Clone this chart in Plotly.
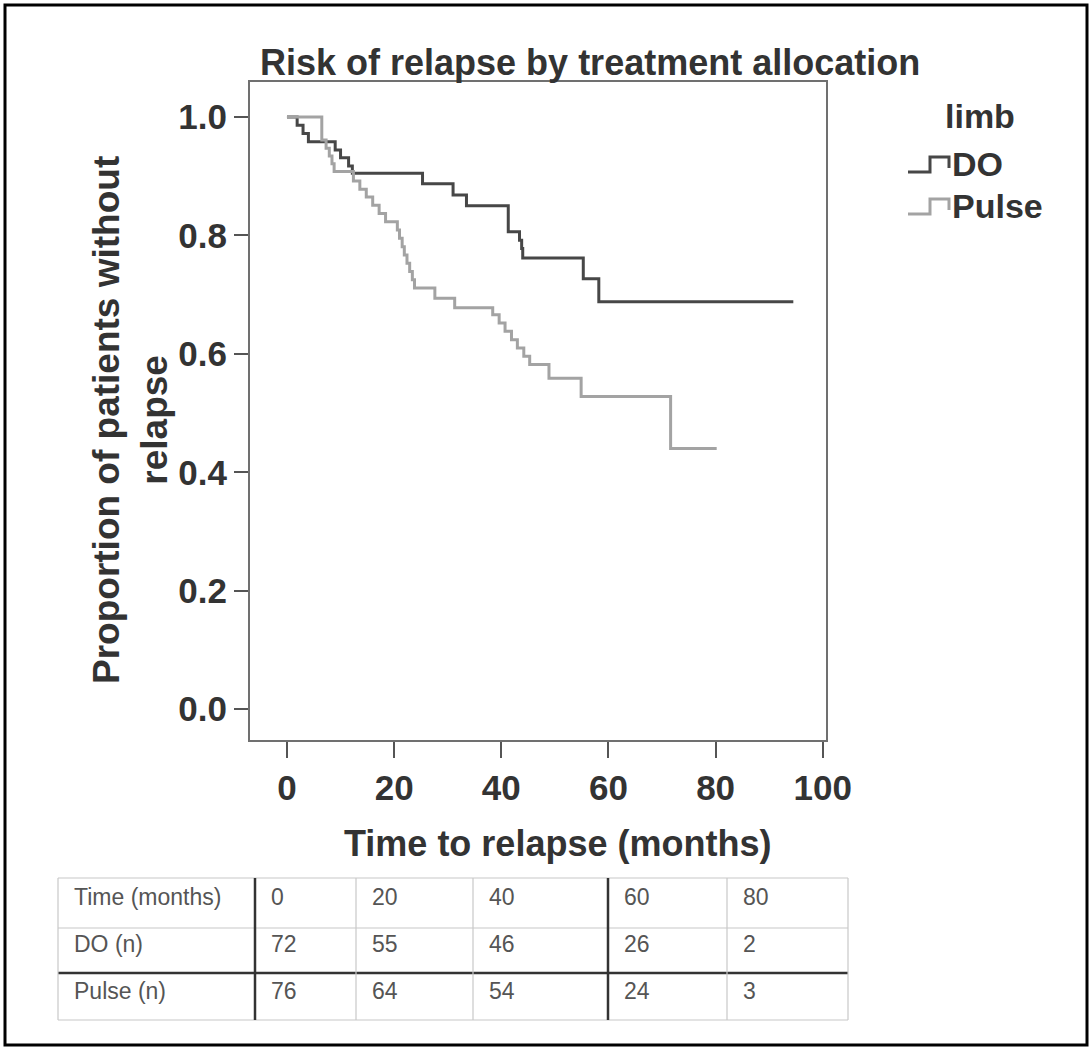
import plotly.graph_objects as go

# ---------------- data ----------------
do_time = [0, 1.9, 3.0, 4.0, 9.0, 10.0, 11.5, 12.2, 25.3, 31.0, 33.5, 41.3, 43.4, 43.8, 44.0, 55.3, 58.2, 94.5]
do_surv = [1.0, 0.986, 0.972, 0.958, 0.944, 0.931, 0.917, 0.905, 0.887, 0.868, 0.850, 0.806, 0.792, 0.778, 0.762, 0.727, 0.688, 0.688]

pulse_time = [0, 6.5, 7.3, 7.9, 8.4, 8.8, 12.4, 13.6, 14.8, 16.0, 17.2, 18.4,
              20.6, 21.0, 21.5, 21.9, 22.4, 22.9, 23.4, 23.8, 27.6, 31.3,
              38.4, 39.6, 40.7, 41.9, 43.0, 44.2, 45.3, 48.9, 54.9, 71.6, 80.2]
pulse_surv = [1.0, 0.961, 0.947, 0.934, 0.921, 0.908, 0.892, 0.878, 0.865, 0.851, 0.837, 0.823,
              0.809, 0.795, 0.781, 0.767, 0.753, 0.739, 0.725, 0.711, 0.694, 0.678,
              0.666, 0.652, 0.638, 0.624, 0.610, 0.596, 0.582, 0.559, 0.528, 0.440, 0.440]

x_ticks = [0, 20, 40, 60, 80, 100]
y_ticks = [0.0, 0.2, 0.4, 0.6, 0.8, 1.0]

table_row_labels = ["Time (months)", "DO (n)", "Pulse (n)"]
table_times = [0, 20, 40, 60, 80]
do_at_risk = [72, 55, 46, 26, 2]
pulse_at_risk = [76, 64, 54, 24, 3]

title_text = "Risk of relapse by treatment allocation"
x_title = "Time to relapse (months)"
y_title = "Proportion of patients without<br>relapse"
legend_title = "limb"
group_names = ["DO", "Pulse"]
group_colors = ["#474747", "#a3a3a3"]

# ---------------- geometry helpers ----------------
W, H = 1092, 1050
L, R, T, B = 250, 826, 82, 740


def px(x):
    return (x - L) / (R - L)


def py(y):
    return (B - y) / (B - T)


fig = go.Figure()
fig.add_trace(go.Scatter(x=do_time, y=do_surv, mode="lines", name=group_names[0],
                         line=dict(shape="hv", color=group_colors[0], width=3), showlegend=False))
fig.add_trace(go.Scatter(x=pulse_time, y=pulse_surv, mode="lines", name=group_names[1],
                         line=dict(shape="hv", color=group_colors[1], width=3), showlegend=False))

bold_font = "Liberation Sans, Arial, sans-serif"
tickfont = dict(family=bold_font, size=35, color="#333333", weight="bold")

fig.update_xaxes(range=[-6.9, 100.6], tickvals=x_ticks, ticks="outside", ticklen=16, tickwidth=2,
                 tickcolor="#555555", showline=True, mirror=True, linecolor="#707070", linewidth=2,
                 showgrid=False, zeroline=False, tickfont=tickfont)
fig.update_yaxes(range=[-0.052, 1.059], tickvals=y_ticks, tickformat=".1f", ticks="outside", ticklen=14,
                 tickwidth=2, tickcolor="#555555", showline=True, mirror=True, linecolor="#707070",
                 linewidth=2, showgrid=False, zeroline=False, tickfont=tickfont)

shapes = []
# outer border
shapes.append(dict(type="rect", xref="paper", yref="paper", x0=px(5), x1=px(1087), y0=py(5), y1=py(1045),
                   line=dict(color="black", width=3), layer="above"))

# table grid
tx = [58, 255, 356, 473, 608, 727, 848]
ty = [878, 928, 973, 1020]
bold_x = [255, 608]
bold_y = [973]
for yy in ty:
    bold = yy in bold_y
    shapes.append(dict(type="line", xref="paper", yref="paper", x0=px(tx[0]), x1=px(tx[-1]), y0=py(yy), y1=py(yy),
                       line=dict(color="#333333" if bold else "#c8c8c8", width=2.5 if bold else 1.2)))
for xx in tx:
    bold = xx in bold_x
    shapes.append(dict(type="line", xref="paper", yref="paper", x0=px(xx), x1=px(xx), y0=py(ty[0]), y1=py(ty[-1]),
                       line=dict(color="#333333" if bold else "#c8c8c8", width=2.5 if bold else 1.2)))

# legend glyphs
glyph_y = [(172, 157), (214, 199)]
for (ylow, yhigh), col in zip(glyph_y, group_colors):
    path = "M {} {} L {} {} L {} {} L {} {} L {} {}".format(
        px(908), py(ylow), px(930), py(ylow), px(930), py(yhigh), px(949), py(yhigh), px(949), py(ylow - 4))
    shapes.append(dict(type="path", xref="paper", yref="paper", path=path,
                       line=dict(color=col, width=3)))

annotations = []
annotations.append(dict(text="<b>" + title_text + "</b>", x=px(590), y=py(62), xref="paper", yref="paper",
                        showarrow=False, xanchor="center", yanchor="middle",
                        font=dict(family=bold_font, size=36, color="#333333")))
annotations.append(dict(text="<b>" + x_title + "</b>", x=px(557), y=py(843), xref="paper", yref="paper",
                        showarrow=False, xanchor="center", yanchor="middle",
                        font=dict(family=bold_font, size=36, color="#333333")))
annotations.append(dict(text="<b>" + y_title + "</b>", x=px(131), y=py(420), xref="paper", yref="paper",
                        showarrow=False, xanchor="center", yanchor="middle", textangle=-90,
                        font=dict(family=bold_font, size=37, color="#333333")))
annotations.append(dict(text="<b>" + legend_title + "</b>", x=px(980), y=py(116), xref="paper", yref="paper",
                        showarrow=False, xanchor="center", yanchor="middle",
                        font=dict(family=bold_font, size=34, color="#333333")))
for name, yc in zip(group_names, [164, 206]):
    annotations.append(dict(text="<b>" + name + "</b>", x=px(950), y=py(yc), xref="paper", yref="paper",
                            showarrow=False, xanchor="left", yanchor="middle",
                            font=dict(family=bold_font, size=34, color="#333333")))

# table text
table_font = dict(family="Liberation Sans Narrow, Arial Narrow, Liberation Sans, sans-serif", size=23, color="#555555")
rows = [table_times, do_at_risk, pulse_at_risk]
row_y = [897, 944, 991]
for label, vals, yc in zip(table_row_labels, rows, row_y):
    annotations.append(dict(text=label, x=px(tx[0] + 14), y=py(yc), xref="paper", yref="paper",
                            showarrow=False, xanchor="left", yanchor="middle", font=table_font))
    for i, v in enumerate(vals):
        annotations.append(dict(text=str(v), x=px(tx[i + 1] + 14), y=py(yc), xref="paper", yref="paper",
                                showarrow=False, xanchor="left", yanchor="middle", font=table_font))

fig.update_layout(width=W, height=H, margin=dict(l=L, r=W - R, t=T, b=H - B, pad=0),
                  paper_bgcolor="white", plot_bgcolor="white", shapes=shapes, annotations=annotations,
                  showlegend=False)

fig.write_html("out.html")
